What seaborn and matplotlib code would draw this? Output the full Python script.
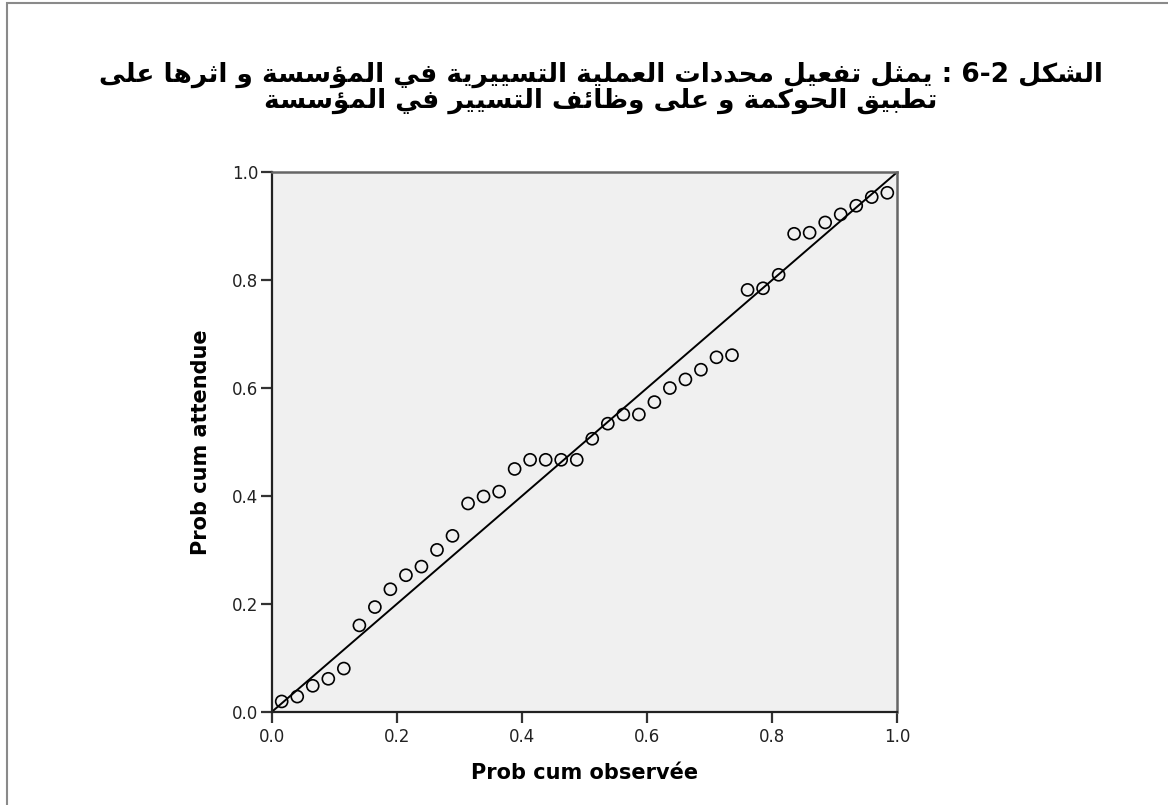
import numpy as np
import pandas as pd
import matplotlib
matplotlib.use("Agg")
import matplotlib.pyplot as plt
from matplotlib.patches import Rectangle
import seaborn as sns

# ===============================
# 1. Data
# ===============================

prob_observed = [0.0155, 0.0404, 0.0652, 0.0901, 0.1149, 0.1398, 0.1646, 0.1894,
                 0.2143, 0.2391, 0.2640, 0.2888, 0.3137, 0.3385, 0.3634, 0.3882,
                 0.4130, 0.4379, 0.4627, 0.4876, 0.5124, 0.5373, 0.5621, 0.5870,
                 0.6118, 0.6366, 0.6615, 0.6863, 0.7112, 0.7360, 0.7609, 0.7857,
                 0.8106, 0.8354, 0.8602, 0.8851, 0.9099, 0.9348, 0.9596, 0.9845]
prob_expected = [0.019, 0.028, 0.048, 0.061, 0.080, 0.160, 0.194, 0.227,
                 0.253, 0.269, 0.300, 0.326, 0.386, 0.399, 0.408, 0.450,
                 0.467, 0.467, 0.467, 0.467, 0.506, 0.534, 0.551, 0.551,
                 0.574, 0.600, 0.616, 0.634, 0.657, 0.661, 0.782, 0.785,
                 0.810, 0.886, 0.888, 0.907, 0.922, 0.938, 0.954, 0.962]
ticks = [0.0, 0.2, 0.4, 0.6, 0.8, 1.0]

title_lines = ["الشكل 6-2 : يمثل تفعيل محددات العملية التسييرية في المؤسسة و اثرها على",
               "تطبيق الحوكمة و على وظائف التسيير في المؤسسة"]
x_label = "Prob cum observée"
y_label = "Prob cum attendue"

df = pd.DataFrame({"observed": prob_observed, "expected": prob_expected})

# ===============================
# 2. Minimal Arabic shaping (matplotlib has no RTL / joining support)
# ===============================

DUAL = {'ئ': 0xFE89, 'ب': 0xFE8F, 'ت': 0xFE95, 'ث': 0xFE99, 'ج': 0xFE9D, 'ح': 0xFEA1,
        'خ': 0xFEA5, 'س': 0xFEB1, 'ش': 0xFEB5, 'ص': 0xFEB9, 'ض': 0xFEBD, 'ط': 0xFEC1,
        'ظ': 0xFEC5, 'ع': 0xFEC9, 'غ': 0xFECD, 'ف': 0xFED1, 'ق': 0xFED5, 'ك': 0xFED9,
        'ل': 0xFEDD, 'م': 0xFEE1, 'ن': 0xFEE5, 'ه': 0xFEE9, 'ي': 0xFEF1}
RIGHT = {'آ': 0xFE81, 'أ': 0xFE83, 'ؤ': 0xFE85, 'إ': 0xFE87, 'ا': 0xFE8D, 'ة': 0xFE93,
         'د': 0xFEA9, 'ذ': 0xFEAB, 'ر': 0xFEAD, 'ز': 0xFEAF, 'و': 0xFEED, 'ى': 0xFEEF}


def shape_word(w):
    out = []
    for i, c in enumerate(w):
        prev = w[i - 1] if i > 0 else ''
        nxt = w[i + 1] if i + 1 < len(w) else ''
        jp = prev in DUAL
        jn = nxt in DUAL or nxt in RIGHT
        if c in DUAL:
            form = 3 if (jp and jn) else 1 if jp else 2 if jn else 0
            out.append(chr(DUAL[c] + form))
        elif c in RIGHT:
            out.append(chr(RIGHT[c] + (1 if jp else 0)))
        else:
            out.append(c)
    return ''.join(out)


def visual(line):
    words = []
    for t in reversed(line.split(' ')):
        if any(ch in DUAL or ch in RIGHT for ch in t):
            words.append(shape_word(t)[::-1])
        else:
            words.append(t)
    return ' '.join(words)


# ===============================
# 3. Plot
# ===============================

sns.set_style("white")
plt.rcParams['font.family'] = ['DejaVu Sans']

fig = plt.figure(figsize=(11.68, 8.05), dpi=100)
ax = fig.add_axes([272 / 1168, 93.3 / 805, 625 / 1168, 539.4 / 805])
ax.set_facecolor("#f0f0f0")

ax.axline((0, 0), slope=1, color="black", lw=1.4, zorder=2)
sns.scatterplot(data=df, x="observed", y="expected", ax=ax, marker="o",
                facecolor="none", edgecolor="black", linewidth=1.2, s=75, zorder=3)

ax.set_xlim(0, 1)
ax.set_ylim(0, 1)
ax.set_xticks(ticks)
ax.set_yticks(ticks)
ax.set_xticklabels([f"{t:.1f}" for t in ticks])
ax.set_yticklabels([f"{t:.1f}" for t in ticks])
ax.tick_params(axis="both", bottom=True, left=True, direction="out", length=8,
               width=1.6, color="#333333", labelsize=12, labelcolor="#222222", pad=2)
ax.tick_params(axis="x", pad=4)

ax.set_xlabel(x_label, fontsize=15, fontweight="bold", color="black", labelpad=12)
ax.set_ylabel(y_label, fontsize=15, fontweight="bold", color="black", labelpad=15)

for side in ["left", "bottom"]:
    ax.spines[side].set_color("#222222")
    ax.spines[side].set_linewidth(1.6)
for side in ["top", "right"]:
    ax.spines[side].set_color("#666666")
    ax.spines[side].set_linewidth(1.8)

fig.text(601 / 1168, 1 - 88 / 805, "\n".join(visual(l) for l in title_lines),
         ha="center", va="center", multialignment="center", fontsize=19,
         fontweight="bold", color="black", linespacing=0.95)

fig.add_artist(Rectangle((7 / 1168, -0.05), 1.2, 1.05 - 3 / 805, transform=fig.transFigure,
                         fill=False, edgecolor="#8a8a8a", linewidth=1.5))

plt.savefig("out.png", dpi=100, facecolor="white")
